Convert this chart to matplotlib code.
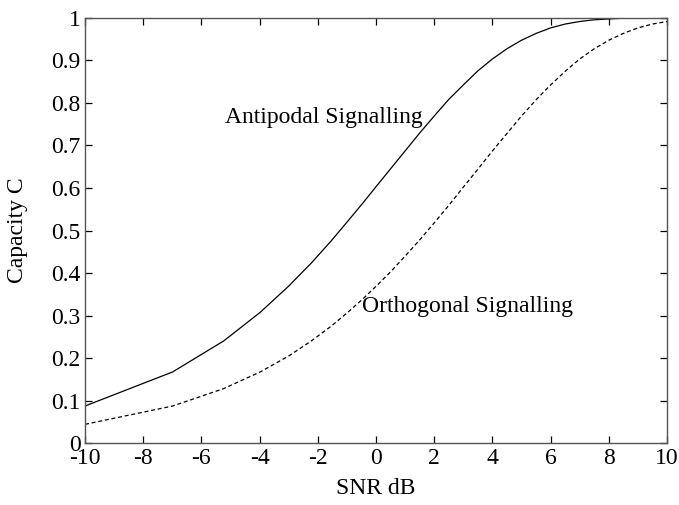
import matplotlib
matplotlib.use("Agg")
import matplotlib.pyplot as plt

# SNR in dB (sample points of both curves)
snr_db = [-10, -6.99, -5.23, -3.98, -3.01, -2.22, -1.55, -0.97, -0.46, 0,
          0.5, 1, 1.5, 2, 2.5, 3, 3.5, 4, 4.5, 5,
          5.5, 6, 6.5, 7, 7.5, 8, 8.5, 9, 9.5, 10]

# capacity, antipodal signalling (solid)
cap_antipodal = [0.088, 0.168, 0.241, 0.308, 0.369, 0.424, 0.475, 0.522, 0.564, 0.603,
                 0.645, 0.687, 0.729, 0.769, 0.808, 0.842, 0.875, 0.903, 0.927, 0.947,
                 0.963, 0.976, 0.985, 0.991, 0.995, 0.997, 0.9987, 0.9995, 0.9998, 0.9999]

# capacity, orthogonal signalling (dashed)
cap_orthogonal = [0.045, 0.088, 0.129, 0.168, 0.205, 0.241, 0.275, 0.308, 0.339, 0.369,
                  0.403, 0.440, 0.478, 0.518, 0.559, 0.602, 0.644, 0.687, 0.728, 0.769,
                  0.807, 0.842, 0.874, 0.903, 0.927, 0.947, 0.963, 0.976, 0.985, 0.991]

x_ticks = [-10, -8, -6, -4, -2, 0, 2, 4, 6, 8, 10]
y_ticks = [0, 0.1, 0.2, 0.3, 0.4, 0.5, 0.6, 0.7, 0.8, 0.9, 1]
y_tick_labels = ["0", "0.1", "0.2", "0.3", "0.4", "0.5", "0.6", "0.7", "0.8", "0.9", "1"]

plt.rcParams['font.family'] = ['Liberation Serif', 'DejaVu Serif']
plt.rcParams['font.size'] = 17

fig = plt.figure(figsize=(6.79, 5.05), dpi=100)
ax = fig.add_axes([0.1252, 0.1218, 0.8571, 0.8432])

ax.plot(snr_db, cap_antipodal, color='black', lw=0.9)
ax.plot(snr_db, cap_orthogonal, color='black', lw=0.9, dashes=(3.2, 2.2))

ax.text(-5.19, 0.752, "Antipodal Signalling", va='baseline', ha='left')
ax.text(-0.49, 0.3095, "Orthogonal Signalling", va='baseline', ha='left')

ax.set_xlim(-10, 10)
ax.set_ylim(0, 1)
ax.set_xticks(x_ticks)
ax.set_xticklabels([str(t) for t in x_ticks])
ax.set_yticks(y_ticks)
ax.set_yticklabels(y_tick_labels)

ax.tick_params(direction='in', length=5, width=0.9, pad=3, top=True, right=True, colors='black')
for s in ax.spines.values():
    s.set_color('#555555')
    s.set_linewidth(1.0)

ax.set_xlabel("SNR dB")
ax.set_ylabel("Capacity C")
ax.xaxis.set_label_coords(0.5, -0.08)
ax.yaxis.set_label_coords(-0.098, 0.5)

fig.savefig("out.png", dpi=100)
